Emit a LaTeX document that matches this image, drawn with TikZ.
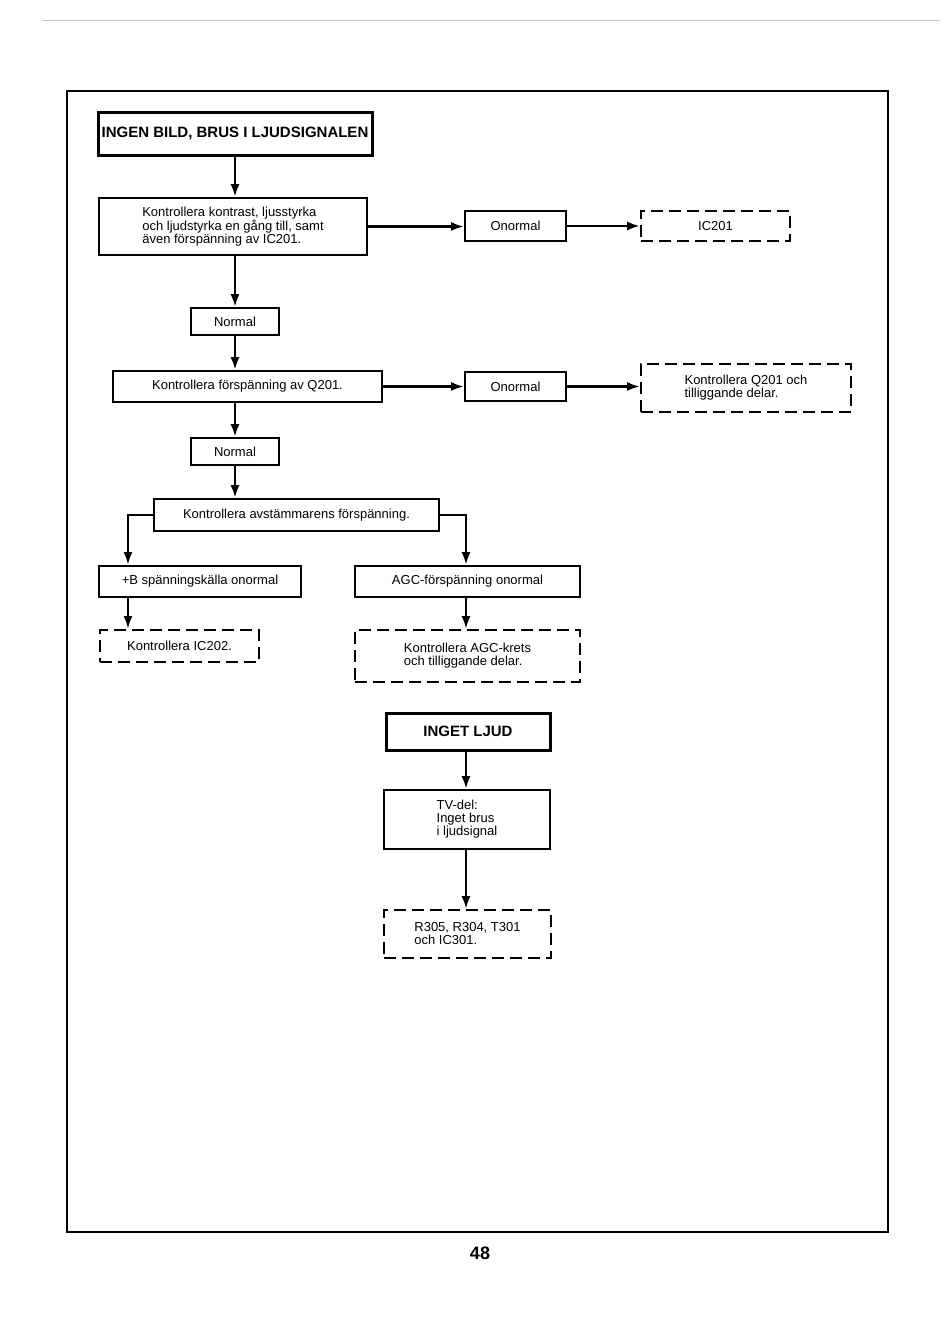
\documentclass[tikz,border=0pt]{standalone}
\usepackage{fontspec}
\setmainfont{Liberation Sans}
\usetikzlibrary{arrows.meta}
\tikzset{
  box/.style={draw, line width=1.7pt, rectangle, inner sep=0pt, align=left,
    font=\fontsize{13}{13}\selectfont},
  dbox/.style={box, dash pattern=on 12pt off 6pt},
  tbox/.style={draw, line width=3pt, rectangle, inner sep=0pt,
    font=\fontsize{15}{15}\selectfont\bfseries},
  conn/.style={line width=2.7pt, -{Latex[length=13pt,width=9pt]}}
}
\begin{document}
\begin{tikzpicture}[x=1pt,y=-1pt]
\useasboundingbox (0,0) rectangle (950,1341);
\fill[white] (0,0) rectangle (950,1341);
\draw[gray!45, line width=0.8pt] (42,20.5) -- (940,20.5);
\draw[line width=1.8pt] (67,91) rectangle (888,1232);

\node[tbox, minimum width=274, minimum height=43] (t1) at (235,133.5) {INGEN BILD, BRUS I LJUDSIGNALEN};
\node[box, minimum width=268, minimum height=57] (b1) at (233,226.5) {Kontrollera kontrast, ljusstyrka\\och ljudstyrka en gång till, samt\\även förspänning av IC201.};
\node[box, minimum width=101, minimum height=30] (on1) at (515.5,226) {Onormal};
\node[dbox, minimum width=149, minimum height=30] (ic201) at (715.5,226) {IC201};
\node[box, minimum width=88, minimum height=27] (n1) at (235,321.5) {Normal};
\node[box, minimum width=269, minimum height=31] (b2) at (247.5,386.5) {Kontrollera förspänning av Q201.};
\node[box, minimum width=101, minimum height=29] (on2) at (515.5,386.5) {Onormal};
\node[dbox, minimum width=210, minimum height=48] (q201) at (746,388) {Kontrollera Q201 och\\tilliggande delar.};
\node[box, minimum width=88, minimum height=27] (n2) at (235,451.5) {Normal};
\node[box, minimum width=285, minimum height=32] (b3) at (296.5,515) {Kontrollera avstämmarens förspänning.};
\node[box, minimum width=202, minimum height=31] (b4) at (200,581.5) {+B spänningskälla onormal};
\node[box, minimum width=225, minimum height=31] (b5) at (467.5,581.5) {AGC-förspänning onormal};
\node[dbox, minimum width=159, minimum height=32] (ic202) at (179.5,646) {Kontrollera IC202.};
\node[dbox, minimum width=225, minimum height=52] (agc) at (467.5,656) {Kontrollera AGC-krets\\och tilliggande delar.};
\node[tbox, minimum width=164, minimum height=37] (t2) at (468,731.5) {INGET LJUD};
\node[box, minimum width=166, minimum height=59] (b8) at (467,819.5) {TV-del:\\Inget brus\\i ljudsignal};
\node[dbox, minimum width=167, minimum height=48] (b9) at (467.5,934) {R305, R304, T301\\och IC301.};
\node[font=\fontsize{18}{18}\selectfont\bfseries] (pg) at (480,1253) {48};

\draw[conn] (t1.south) -- (t1.south |- b1.north);
\draw[conn] (b1.east) -- (b1.east -| on1.west);
\draw[conn] (on1.east) -- (on1.east -| ic201.west);
\draw[conn] (n1.north |- b1.south) -- (n1.north);
\draw[conn] (n1.south) -- (n1.south |- b2.north);
\draw[conn] (b2.east) -- (b2.east -| on2.west);
\draw[conn] (on2.east) -- (on2.east -| q201.west);
\draw[conn] (n2.north |- b2.south) -- (n2.north);
\draw[conn] (n2.south) -- (n2.south |- b3.north);
\draw[conn] (b3.west) -| ([xshift=-72pt]b4.north);
\draw[conn] (b3.east) -| ([xshift=-1.5pt]b5.north);
\draw[conn] ([xshift=-72pt]b4.south) -- ([xshift=-72pt]b4.south |- ic202.north);
\draw[conn] ([xshift=-1.5pt]b5.south) -- ([xshift=-1.5pt]b5.south |- agc.north);
\draw[conn] ([xshift=-2pt]t2.south) -- ([xshift=-2pt]t2.south |- b8.north);
\draw[conn] ([xshift=-1pt]b8.south) -- ([xshift=-1pt]b8.south |- b9.north);
\end{tikzpicture}
\end{document}
